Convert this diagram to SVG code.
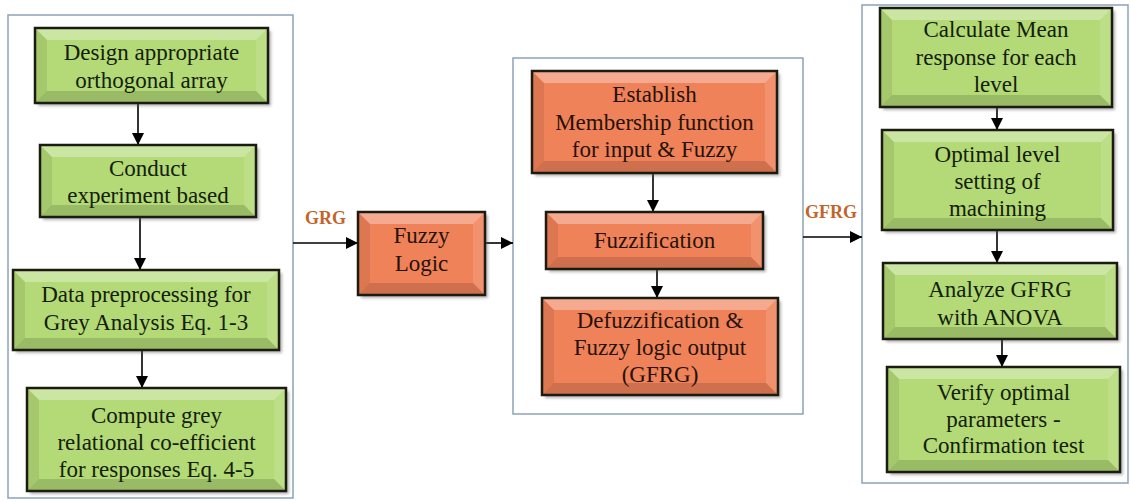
<svg xmlns="http://www.w3.org/2000/svg" width="1131" height="502" viewBox="0 0 1131 502">
<defs>
<style>
.cont{fill:#fff;stroke:#8ea2b8;stroke-width:1.5}
.g{fill:#b3da76}
.o{fill:#f0825a}
.bt{fill:#fff;opacity:.32}
.bl{fill:#000;opacity:.08}
.br{fill:#fff;opacity:.12}
.bb{fill:#000;opacity:.14}
.edge{fill:none;stroke:#1b1b12;stroke-width:2.5}
.sh{fill:#555;opacity:.45;filter:url(#blur)}
.t{font-family:"Liberation Serif","Times New Roman",serif;font-size:23px;text-anchor:middle}
.tg{fill:#14200a}
.to{fill:#261208}
.lbl{font-family:"Liberation Serif","Times New Roman",serif;font-size:18px;font-weight:bold;fill:#c2642a}
.con{stroke:#000;stroke-width:1.6;fill:none;marker-end:url(#ah)}
</style>
<filter id="blur" x="-10%" y="-10%" width="120%" height="120%"><feGaussianBlur stdDeviation="1.5"/></filter>
<marker id="ah" viewBox="0 0 10 10" refX="10" refY="5" markerWidth="13" markerHeight="12" markerUnits="userSpaceOnUse" orient="auto">
<path d="M0,0 L10,5 L0,10 z" fill="#000"/>
</marker>
</defs>
<rect width="1131" height="502" fill="#fff"/>
<g id="containers">
<rect class="cont" x="8" y="15" width="285" height="483"/>
<rect class="cont" x="513" y="58" width="290" height="356"/>
<rect class="cont" x="862" y="5" width="266" height="478"/>
</g>
<g id="connectors">
<line class="con" x1="138" y1="104" x2="138" y2="145"/>
<line class="con" x1="140" y1="218" x2="140" y2="270"/>
<line class="con" x1="142" y1="351" x2="142" y2="388"/>
<line class="con" x1="293" y1="243" x2="358" y2="243"/>
<line class="con" x1="485" y1="243" x2="513" y2="243"/>
<line class="con" x1="653" y1="174" x2="653" y2="212"/>
<line class="con" x1="657" y1="270" x2="657" y2="298"/>
<line class="con" x1="803" y1="237" x2="862" y2="237"/>
<line class="con" x1="997" y1="108" x2="997" y2="130"/>
<line class="con" x1="997" y1="231" x2="997" y2="263"/>
<line class="con" x1="1002" y1="340" x2="1002" y2="367"/>
<text class="lbl" x="305" y="224">GRG</text>
<text class="lbl" x="805" y="218">GFRG</text>
</g>
<g id="n1">
<rect class="sh" x="38" y="31" width="233" height="75"/>
<rect class="g" x="35" y="28" width="233" height="75"/>
<polygon class="bt" points="35,28 268,28 256,40 47,40"/>
<polygon class="bl" points="35,28 47,40 47,91 35,103"/>
<polygon class="br" points="268,28 268,103 256,91 256,40"/>
<polygon class="bb" points="35,103 47,91 256,91 268,103"/>
<rect class="edge" x="35" y="28" width="233" height="75"/>
<text class="t tg" x="151.5" y="60">Design appropriate</text>
<text class="t tg" x="151.5" y="88">orthogonal array</text>
</g>
<g id="n2">
<rect class="sh" x="43" y="148" width="216" height="72"/>
<rect class="g" x="40" y="145" width="216" height="72"/>
<polygon class="bt" points="40,145 256,145 244,157 52,157"/>
<polygon class="bl" points="40,145 52,157 52,205 40,217"/>
<polygon class="br" points="256,145 256,217 244,205 244,157"/>
<polygon class="bb" points="40,217 52,205 244,205 256,217"/>
<rect class="edge" x="40" y="145" width="216" height="72"/>
<text class="t tg" x="148" y="176">Conduct</text>
<text class="t tg" x="148" y="203">experiment based</text>
</g>
<g id="n3">
<rect class="sh" x="16" y="273" width="266" height="80"/>
<rect class="g" x="13" y="270" width="266" height="80"/>
<polygon class="bt" points="13,270 279,270 267,282 25,282"/>
<polygon class="bl" points="13,270 25,282 25,338 13,350"/>
<polygon class="br" points="279,270 279,350 267,338 267,282"/>
<polygon class="bb" points="13,350 25,338 267,338 279,350"/>
<rect class="edge" x="13" y="270" width="266" height="80"/>
<text class="t tg" x="146" y="302">Data preprocessing for</text>
<text class="t tg" x="146" y="330">Grey Analysis Eq. 1-3</text>
</g>
<g id="n4">
<rect class="sh" x="30" y="391" width="259" height="103"/>
<rect class="g" x="27" y="388" width="259" height="103"/>
<polygon class="bt" points="27,388 286,388 274,400 39,400"/>
<polygon class="bl" points="27,388 39,400 39,479 27,491"/>
<polygon class="br" points="286,388 286,491 274,479 274,400"/>
<polygon class="bb" points="27,491 39,479 274,479 286,491"/>
<rect class="edge" x="27" y="388" width="259" height="103"/>
<text class="t tg" x="156.5" y="423">Compute grey</text>
<text class="t tg" x="156.5" y="450">relational co-efficient</text>
<text class="t tg" x="156.5" y="477">for responses Eq. 4-5</text>
</g>
<g id="n5">
<rect class="sh" x="361" y="215" width="127" height="83"/>
<rect class="o" x="358" y="212" width="127" height="83"/>
<polygon class="bt" points="358,212 485,212 473,224 370,224"/>
<polygon class="bl" points="358,212 370,224 370,283 358,295"/>
<polygon class="br" points="485,212 485,295 473,283 473,224"/>
<polygon class="bb" points="358,295 370,283 473,283 485,295"/>
<rect class="edge" x="358" y="212" width="127" height="83"/>
<text class="t to" x="421.5" y="243">Fuzzy</text>
<text class="t to" x="421.5" y="271">Logic</text>
</g>
<g id="n6">
<rect class="sh" x="535" y="74" width="245" height="102"/>
<rect class="o" x="532" y="71" width="245" height="102"/>
<polygon class="bt" points="532,71 777,71 765,83 544,83"/>
<polygon class="bl" points="532,71 544,83 544,161 532,173"/>
<polygon class="br" points="777,71 777,173 765,161 765,83"/>
<polygon class="bb" points="532,173 544,161 765,161 777,173"/>
<rect class="edge" x="532" y="71" width="245" height="102"/>
<text class="t to" x="654.5" y="102">Establish</text>
<text class="t to" x="654.5" y="130">Membership function</text>
<text class="t to" x="654.5" y="157">for input &amp; Fuzzy</text>
</g>
<g id="n7">
<rect class="sh" x="549" y="215" width="217" height="57"/>
<rect class="o" x="546" y="212" width="217" height="57"/>
<polygon class="bt" points="546,212 763,212 751,224 558,224"/>
<polygon class="bl" points="546,212 558,224 558,257 546,269"/>
<polygon class="br" points="763,212 763,269 751,257 751,224"/>
<polygon class="bb" points="546,269 558,257 751,257 763,269"/>
<rect class="edge" x="546" y="212" width="217" height="57"/>
<text class="t to" x="654.5" y="248">Fuzzification</text>
</g>
<g id="n8">
<rect class="sh" x="545" y="301" width="236" height="97"/>
<rect class="o" x="542" y="298" width="236" height="97"/>
<polygon class="bt" points="542,298 778,298 766,310 554,310"/>
<polygon class="bl" points="542,298 554,310 554,383 542,395"/>
<polygon class="br" points="778,298 778,395 766,383 766,310"/>
<polygon class="bb" points="542,395 554,383 766,383 778,395"/>
<rect class="edge" x="542" y="298" width="236" height="97"/>
<text class="t to" x="660" y="328">Defuzzification &amp;</text>
<text class="t to" x="660" y="355">Fuzzy logic output</text>
<text class="t to" x="660" y="382">(GFRG)</text>
</g>
<g id="n9">
<rect class="sh" x="883" y="11" width="232" height="99"/>
<rect class="g" x="880" y="8" width="232" height="99"/>
<polygon class="bt" points="880,8 1112,8 1100,20 892,20"/>
<polygon class="bl" points="880,8 892,20 892,95 880,107"/>
<polygon class="br" points="1112,8 1112,107 1100,95 1100,20"/>
<polygon class="bb" points="880,107 892,95 1100,95 1112,107"/>
<rect class="edge" x="880" y="8" width="232" height="99"/>
<text class="t tg" x="996" y="37">Calculate Mean</text>
<text class="t tg" x="996" y="65">response for each</text>
<text class="t tg" x="996" y="92">level</text>
</g>
<g id="n10">
<rect class="sh" x="885" y="133" width="231" height="100"/>
<rect class="g" x="882" y="130" width="231" height="100"/>
<polygon class="bt" points="882,130 1113,130 1101,142 894,142"/>
<polygon class="bl" points="882,130 894,142 894,218 882,230"/>
<polygon class="br" points="1113,130 1113,230 1101,218 1101,142"/>
<polygon class="bb" points="882,230 894,218 1101,218 1113,230"/>
<rect class="edge" x="882" y="130" width="231" height="100"/>
<text class="t tg" x="997.5" y="162">Optimal level</text>
<text class="t tg" x="997.5" y="189">setting of</text>
<text class="t tg" x="997.5" y="216">machining</text>
</g>
<g id="n11">
<rect class="sh" x="886" y="266" width="234" height="76"/>
<rect class="g" x="883" y="263" width="234" height="76"/>
<polygon class="bt" points="883,263 1117,263 1105,275 895,275"/>
<polygon class="bl" points="883,263 895,275 895,327 883,339"/>
<polygon class="br" points="1117,263 1117,339 1105,327 1105,275"/>
<polygon class="bb" points="883,339 895,327 1105,327 1117,339"/>
<rect class="edge" x="883" y="263" width="234" height="76"/>
<text class="t tg" x="1000" y="297">Analyze GFRG</text>
<text class="t tg" x="1000" y="325">with ANOVA</text>
</g>
<g id="n12">
<rect class="sh" x="890" y="370" width="233" height="105"/>
<rect class="g" x="887" y="367" width="233" height="105"/>
<polygon class="bt" points="887,367 1120,367 1108,379 899,379"/>
<polygon class="bl" points="887,367 899,379 899,460 887,472"/>
<polygon class="br" points="1120,367 1120,472 1108,460 1108,379"/>
<polygon class="bb" points="887,472 899,460 1108,460 1120,472"/>
<rect class="edge" x="887" y="367" width="233" height="105"/>
<text class="t tg" x="1003.5" y="400">Verify optimal</text>
<text class="t tg" x="1003.5" y="427">parameters -</text>
<text class="t tg" x="1003.5" y="453">Confirmation test</text>
</g>
</svg>
